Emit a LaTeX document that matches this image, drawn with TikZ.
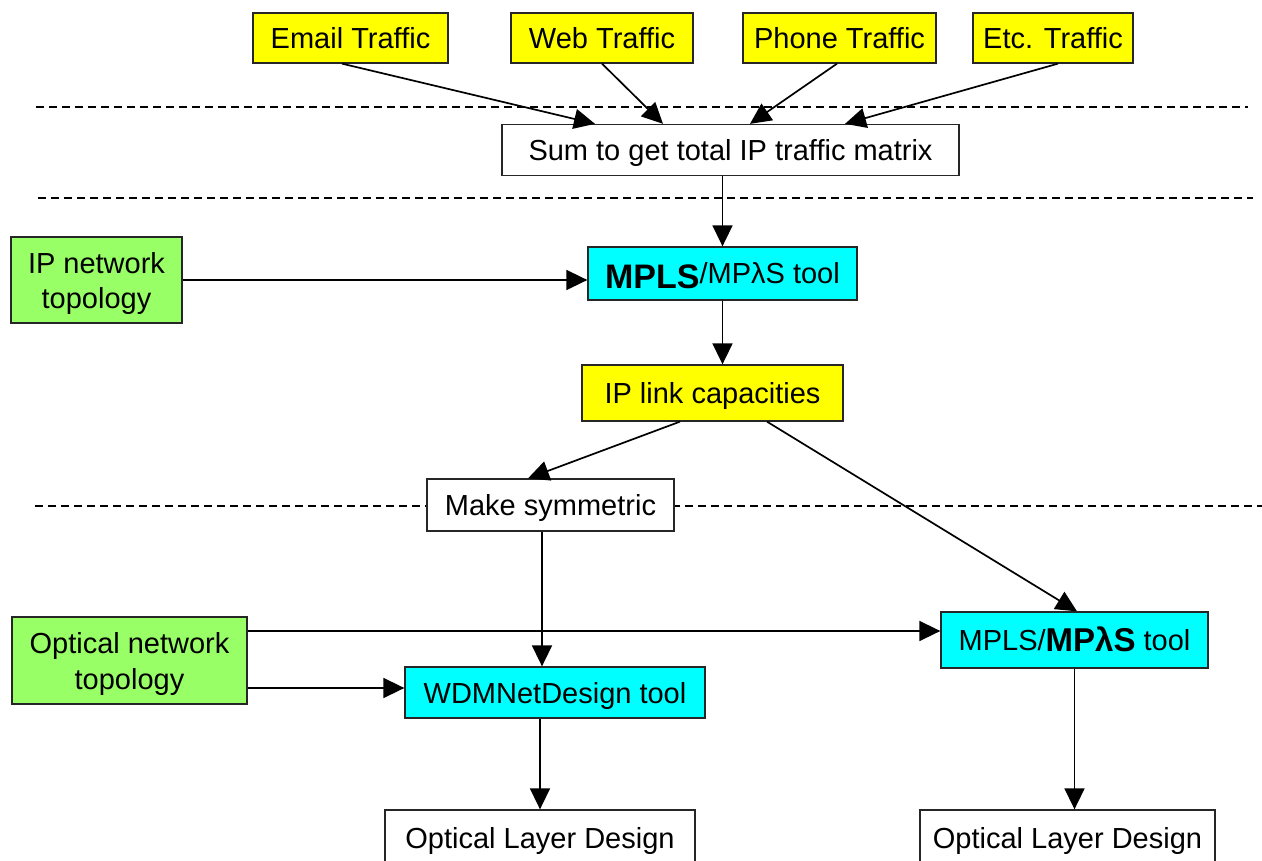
\documentclass[tikz,border=0pt]{standalone}
\usepackage{fontspec}
\setmainfont{Liberation Sans}
\usetikzlibrary{arrows.meta}
\definecolor{topogreen}{RGB}{153,255,102}
\definecolor{toolcyan}{RGB}{0,255,255}
\definecolor{flowyellow}{RGB}{255,255,0}
\begin{document}
\begin{tikzpicture}[x=1pt,y=-1pt,
  box/.style={draw=black!85, line width=1.3pt, inner sep=0pt, align=center,
    font=\fontsize{29}{33}\selectfont},
  line1/.style={box, text height=21pt, text depth=0pt},
  ybox/.style={line1, fill=flowyellow},
  cbox/.style={line1, fill=toolcyan},
  wbox/.style={line1, fill=white},
  gbox/.style={box, fill=topogreen, text depth=0pt},
  conn/.style={line width=1.7pt, -{Triangle[length=21pt,width=20pt]}},
  sep/.style={line width=1.6pt, dash pattern=on 8pt off 5pt}]
\useasboundingbox (0,0) rectangle (1262,861);

% layer separators
\draw[sep] (36,107) -- (1248,107);
\draw[sep] (38,198) -- (1253,198);
\draw[sep] (35,506) -- (1262,506);

% traffic sources
\node[ybox, minimum width=195pt, minimum height=50pt] (email) at (350.5,38) {Email Traffic};
\node[ybox, minimum width=182pt, minimum height=50pt] (web)   at (602,38)   {Web Traffic};
\node[ybox, minimum width=193pt, minimum height=50pt] (phone) at (839.5,38) {Phone Traffic};
\node[ybox, minimum width=160pt, minimum height=50pt] (etc)   at (1053,38)  {Etc. Traffic};

% processing chain
\node[wbox, minimum width=457pt, minimum height=51pt] (sum) at (730.5,150) {Sum to get total IP traffic matrix};
\node[cbox, minimum width=269pt, minimum height=53pt] (mplsA) at (722.5,273.5)
  {\raisebox{-5pt}{\bfseries\fontsize{34}{34}\selectfont MPLS}/MPλS tool};
\node[gbox, minimum width=171pt, minimum height=86pt] (iptopo) at (96.5,280) {IP network\\[2pt]topology};
\node[ybox, minimum width=261pt, minimum height=56pt] (iplink) at (712.5,393) {IP link capacities};
\node[wbox, minimum width=247pt, minimum height=52pt] (sym) at (550.5,505) {Make symmetric};
\node[gbox, minimum width=235pt, minimum height=87pt] (opttopo) at (129.5,660.5) {Optical network\\[3pt]topology};
\node[cbox, minimum width=300pt, minimum height=51pt] (wdm) at (555,692.5) {WDMNetDesign tool};
\node[cbox, minimum width=267pt, minimum height=56pt] (mplsB) at (1074.5,640)
  {MPLS/\raisebox{-1pt}{\bfseries\fontsize{33}{33}\selectfont MPλS} tool};
\node[wbox, minimum width=310pt, minimum height=56pt] (oldA) at (540,838) {Optical Layer Design};
\node[wbox, minimum width=295pt, minimum height=56pt] (oldB) at (1067.5,838) {Optical Layer Design};

% connectors
\draw[conn] ([xshift=-8.5pt]email.south) -- ([xshift=-135.5pt]sum.north);
\draw[conn] (web.south) -- ([xshift=-67.5pt]sum.north);
\draw[conn] ([xshift=-2.5pt]phone.south) -- ([xshift=19.5pt]sum.north);
\draw[conn] ([xshift=5pt]etc.south) -- ([xshift=114.5pt]sum.north);
\draw[conn] (mplsA.north |- sum.south) -- (mplsA.north);
\draw[conn] (iptopo.east) -- (iptopo.east -| mplsA.west);
\draw[conn] (mplsA.south) -- (mplsA.south |- iplink.north);
\draw[conn] ([xshift=-32.5pt]iplink.south) -- ([xshift=-22.5pt]sym.north);
\draw[conn] ([xshift=54.5pt]iplink.south) -- ([xshift=2.5pt]mplsB.north);
\draw[conn] ([xshift=-8.5pt]sym.south) -- ([xshift=-8.5pt]sym.south |- wdm.north);
\draw[conn] ([yshift=29.5pt]opttopo.east) -- ([yshift=29.5pt]opttopo.east -| mplsB.west);
\draw[conn] ([yshift=-27.5pt]opttopo.east) -- ([yshift=-27.5pt]opttopo.east -| wdm.west);
\draw[conn] (oldA.north |- wdm.south) -- (oldA.north);
\draw[conn] (mplsB.south) -- (mplsB.south |- oldB.north);
\end{tikzpicture}
\end{document}
